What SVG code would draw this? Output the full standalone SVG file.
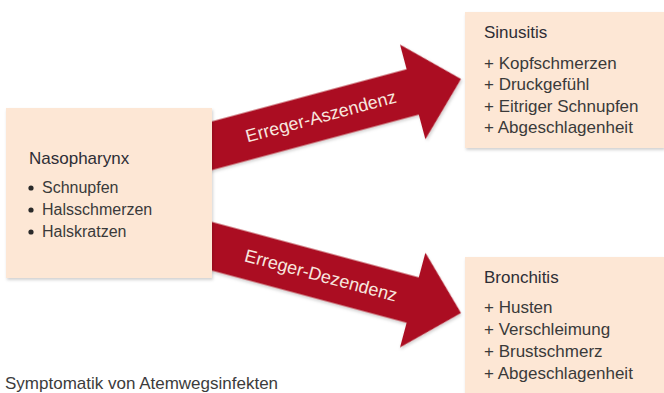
<svg xmlns="http://www.w3.org/2000/svg" width="664" height="393" viewBox="0 0 664 393">
  <defs>
    <style>
      .box { fill: #fde7d5; }
      .shadow { fill: #d9d3cf; }
      .title { font-family: "Liberation Sans", Arial, sans-serif; font-size: 17px; fill: #2e2e36; }
      .item { font-family: "Liberation Sans", Arial, sans-serif; font-size: 16px; fill: #3a3a3a; }
      .ritem { font-family: "Liberation Sans", Arial, sans-serif; font-size: 17px; fill: #3a3a3a; }
      .arrow { fill: #ab1120; }
      .alabel { font-family: "Liberation Sans", Arial, sans-serif; font-size: 18px; fill: #f7e6df; text-anchor: middle; }
      .caption { font-family: "Liberation Sans", Arial, sans-serif; font-size: 17px; fill: #3c3c3c; }
    </style>
    <filter id="ds" x="-10%" y="-10%" width="120%" height="130%">
      <feDropShadow dx="1" dy="2" stdDeviation="1.5" flood-color="#000" flood-opacity="0.18"/>
    </filter>
  </defs>
  <rect width="664" height="393" fill="#ffffff"/>

  <g id="connectors">
    <g id="arrow-aszendenz" transform="translate(461,79) rotate(-15)">
      <polygon class="arrow" filter="url(#ds)" points="0,0 -50,-49 -50,-23.5 -280,-23.5 -280,23.5 -50,23.5 -50,49"/>
      <text class="alabel" x="-145" y="6">Erreger-Aszendenz</text>
    </g>
    <g id="arrow-dezendenz" transform="translate(461,313) rotate(15)">
      <polygon class="arrow" filter="url(#ds)" points="0,0 -50,-49 -50,-23.5 -280,-23.5 -280,23.5 -50,23.5 -50,49"/>
      <text class="alabel" x="-145" y="6">Erreger-Dezendenz</text>
    </g>
  </g>

  <g id="nasopharynx">
    <rect class="box" x="6" y="108" width="206" height="170" filter="url(#ds)"/>
    <text class="title" x="29" y="164">Nasopharynx</text>
    <circle cx="31" cy="188" r="2.6" fill="#2a2a2a"/>
    <text class="item" x="42" y="193">Schnupfen</text>
    <circle cx="31" cy="210" r="2.6" fill="#2a2a2a"/>
    <text class="item" x="42" y="215">Halsschmerzen</text>
    <circle cx="31" cy="232" r="2.6" fill="#2a2a2a"/>
    <text class="item" x="42" y="237">Halskratzen</text>
  </g>

  <g id="sinusitis">
    <rect class="box" x="465" y="12" width="199" height="136" filter="url(#ds)"/>
    <text class="title" x="484" y="38">Sinusitis</text>
    <text class="ritem" x="484" y="68.5">+ Kopfschmerzen</text>
    <text class="ritem" x="484" y="90">+ Druckgefühl</text>
    <text class="ritem" x="484" y="111.5">+ Eitriger Schnupfen</text>
    <text class="ritem" x="484" y="133">+ Abgeschlagenheit</text>
  </g>

  <g id="bronchitis">
    <rect class="box" x="465" y="257" width="199" height="140" filter="url(#ds)"/>
    <text class="title" x="484" y="283">Bronchitis</text>
    <text class="ritem" x="484" y="313">+ Husten</text>
    <text class="ritem" x="484" y="335">+ Verschleimung</text>
    <text class="ritem" x="484" y="357">+ Brustschmerz</text>
    <text class="ritem" x="484" y="379">+ Abgeschlagenheit</text>
  </g>

  <text class="caption" x="5" y="389">Symptomatik von Atemwegsinfekten</text>
</svg>
